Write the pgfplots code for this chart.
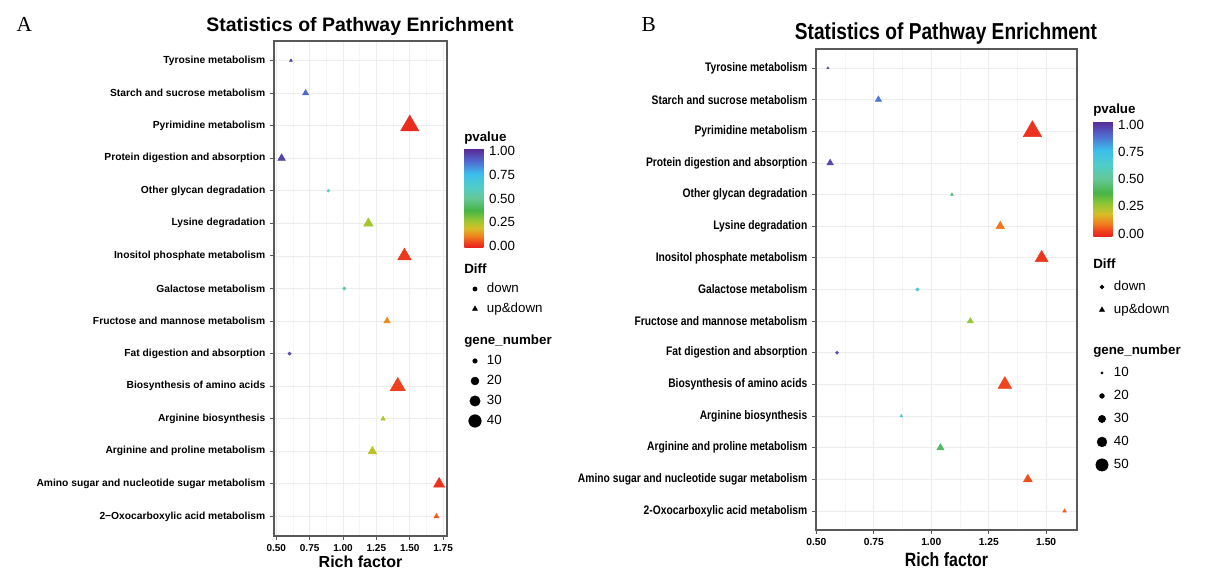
\documentclass[border=0pt]{standalone}
\usepackage{fontspec}
\setmainfont{Liberation Sans}
\newfontfamily\serifpanel{Liberation Serif}
\newfontfamily\condsans[FakeStretch=0.83]{Liberation Sans}
\usepackage{pgfplots}
\pgfplotsset{compat=1.18}
\usepackage{pgfplotstable}
\usetikzlibrary{calc}

\pgfkeys{/pgf/number format/assume math mode=true}

% p-value colour scale (red = 0, purple = 1)
\pgfplotsset{
  colormap={pv}{rgb255(0pt)=(230,30,30) rgb255(6pt)=(240,70,30) rgb255(12pt)=(240,130,30)
    rgb255(20pt)=(215,190,40) rgb255(28pt)=(150,200,50) rgb255(38pt)=(70,180,70)
    rgb255(50pt)=(100,200,150) rgb255(62pt)=(80,205,200) rgb255(75pt)=(60,190,235)
    rgb255(87pt)=(80,110,210) rgb255(100pt)=(90,40,150)},
  enrich/.style={
    scale only axis,
    ymin=0.4, ymax=15.6,
    ytick={1,...,15},
    yticklabels={2−Oxocarboxylic acid metabolism, Amino sugar and nucleotide sugar metabolism,
      Arginine and proline metabolism, Arginine biosynthesis, Biosynthesis of amino acids,
      Fat digestion and absorption, Fructose and mannose metabolism, Galactose metabolism,
      Inositol phosphate metabolism, Lysine degradation, Other glycan degradation,
      Protein digestion and absorption, Pyrimidine metabolism, Starch and sucrose metabolism,
      Tyrosine metabolism},
    tick pos=left,
    tick align=outside,
    major tick length=3pt,
    minor tick length=0pt,
    minor x tick num=1,
    xmajorgrids, xminorgrids, ymajorgrids,
    major grid style={gray!14, line width=0.6pt},
    minor grid style={gray!8, line width=0.35pt},
    axis line style={black!65, line width=0.8pt},
    tick style={black!65, line width=0.7pt},
    scaled x ticks=false,
    xticklabel style={/pgf/number format/fixed, /pgf/number format/fixed zerofill,
      /pgf/number format/precision=2},
    xlabel={Rich factor},
    colormap name=pv,
    legend style={draw=none, fill=none, inner sep=0pt, outer sep=0pt, row sep=0pt,
      column sep=3pt, nodes={inner sep=0pt, font=\fontsize{10}{12}\selectfont},
      cells={anchor=west}, anchor=north west},
  },
  legA/.style={legend image code/.code={
      \path[draw=none, fill=none] (0pt,-7.5pt) rectangle (12pt,7.5pt);
      \draw[##1] plot[only marks] coordinates {(6pt,0pt)};}},
  legB/.style={legend image code/.code={
      \path[draw=none, fill=none] (0pt,-8.625pt) rectangle (12pt,8.625pt);
      \draw[##1] plot[only marks] coordinates {(6pt,0pt)};}},
  pts/.style={scatter, only marks, mark=#1,
    scatter/use mapped color={draw=mapped color, fill=mapped color},
    point meta=\thisrow{p}},
  pbar/.style={scale only axis, width=15pt,
    axis line style={draw=none}, major tick length=0pt,
    ytick={0,0.25,0.5,0.75,1},
    yticklabel style={font=\fontsize{10}{12}\selectfont,
      /pgf/number format/fixed, /pgf/number format/fixed zerofill,
      /pgf/number format/precision=2}},
}

% panel A: pos rf p n
\pgfplotstableread{
pos rf p n
15 0.61 0.97 5
14 0.72 0.90 10
13 1.50 0.00 45
12 0.54 0.97 13
10 1.19 0.25 17
9 1.46 0.02 28
7 1.33 0.12 11
5 1.41 0.03 33
4 1.30 0.25 7
3 1.22 0.22 15
2 1.72 0.01 21
1 1.70 0.06 8
}\AUp
\pgfplotstableread{
pos rf p n
11 0.89 0.60 6
8 1.01 0.55 7
6 0.60 0.95 7
}\ADown

% panel B
\pgfplotstableread{
pos rf p n
15 0.55 0.98 7
14 0.77 0.88 20
13 1.44 0.00 55
12 0.56 0.97 20
11 1.09 0.45 10
10 1.30 0.08 26
9 1.48 0.01 39
7 1.17 0.27 19
5 1.32 0.03 41
4 0.87 0.70 9
3 1.04 0.42 22
2 1.42 0.04 27
1 1.58 0.06 12
}\BUp
\pgfplotstableread{
pos rf p n
8 0.94 0.65 14
6 0.59 0.95 13
}\BDown

\newcommand\ls{\rule[-2pt]{0pt}{9.5pt}}

\begin{document}
\begin{tikzpicture}
\useasboundingbox (0,0) rectangle (910.5pt,427.5pt);

% ---------------- A ----------------
\begin{axis}[enrich, legA,
  at={(205.5pt,25.5pt)}, anchor=south west,
  width=129.75pt, height=371.25pt,
  xmin=0.483, xmax=1.779,
  xtick={0.5,0.75,1,1.25,1.5,1.75},
  xticklabel style={font=\bfseries\fontsize{7.5}{8}\selectfont},
  yticklabel style={font=\bfseries\fontsize{7.7}{9}\selectfont},
  xlabel style={font=\bfseries\fontsize{12}{14}\selectfont,
    at={(axis description cs:0.5,-0.0646)}, anchor=base},
  point meta min=-0.022, point meta max=1.022,
  colorbar,
  colorbar style={pbar, height=74.25pt,
    at={($(parent axis.south west)+(134.25pt,216pt)$)}, anchor=south west},
  legend style={at={(1.1156,0.5192)}},
]
\addplot[pts=triangle*, forget plot,
  visualization depends on={1.555*max(0.95*sqrt(\thisrow{n})-1.3,0.3) \as \ms},
  scatter/@pre marker code/.append style={/tikz/mark size=\ms}]
  table[x=rf, y=pos] {\AUp};
\addplot[pts=*, forget plot,
  visualization depends on={max(0.95*sqrt(\thisrow{n})-1.3,0.3) \as \ms},
  scatter/@pre marker code/.append style={/tikz/mark size=\ms}]
  table[x=rf, y=pos] {\ADown};

\addlegendimage{only marks, mark=*, black, mark size=1.6pt}
\addlegendentry{\ls down}
\addlegendimage{only marks, mark=triangle*, black, mark size=2.2pt}
\addlegendentry{\ls up\&down}
\addlegendimage{empty legend}
\addlegendentry{\rule{0pt}{22.5pt}}
\addlegendimage{only marks, mark=*, black, mark size=1.70pt}
\addlegendentry{\ls 10}
\addlegendimage{only marks, mark=*, black, mark size=2.95pt}
\addlegendentry{\ls 20}
\addlegendimage{only marks, mark=*, black, mark size=3.90pt}
\addlegendentry{\ls 30}
\addlegendimage{only marks, mark=*, black, mark size=4.71pt}
\addlegendentry{\ls 40}
\end{axis}

% ---------------- B ----------------
\begin{axis}[enrich, legB,
  at={(612pt,30pt)}, anchor=south west,
  width=195.75pt, height=360.75pt,
  xmin=0.4985, xmax=1.634,
  xtick={0.5,0.75,1,1.25,1.5},
  xticklabel style={font=\bfseries\fontsize{7.7}{8}\selectfont},
  yticklabels={2-Oxocarboxylic acid metabolism, Amino sugar and nucleotide sugar metabolism,
      Arginine and proline metabolism, Arginine biosynthesis, Biosynthesis of amino acids,
      Fat digestion and absorption, Fructose and mannose metabolism, Galactose metabolism,
      Inositol phosphate metabolism, Lysine degradation, Other glycan degradation,
      Protein digestion and absorption, Pyrimidine metabolism, Starch and sucrose metabolism,
      Tyrosine metabolism},
  yticklabel style={font=\condsans\bfseries\fontsize{9.3}{10}\selectfont},
  xlabel style={font=\condsans\bfseries\fontsize{14.4}{16}\selectfont,
    at={(axis description cs:0.5,-0.0769)}, anchor=base},
  point meta min=-0.032, point meta max=1.032,
  colorbar,
  colorbar style={pbar, height=87pt,
    at={($(parent axis.south west)+(199.5pt,219.75pt)$)}, anchor=south west},
  legend style={at={(1.0651,0.5292)}},
]
\addplot[pts=triangle*, forget plot,
  visualization depends on={1.555*max(0.094*\thisrow{n}-0.1,0.3) \as \ms},
  scatter/@pre marker code/.append style={/tikz/mark size=\ms}]
  table[x=rf, y=pos] {\BUp};
\addplot[pts=*, forget plot,
  visualization depends on={max(0.094*\thisrow{n}-0.1,0.3) \as \ms},
  scatter/@pre marker code/.append style={/tikz/mark size=\ms}]
  table[x=rf, y=pos] {\BDown};

\addlegendimage{only marks, mark=*, black, mark size=1.45pt}
\addlegendentry{\ls down}
\addlegendimage{only marks, mark=triangle*, black, mark size=2.2pt}
\addlegendentry{\ls up\&down}
\addlegendimage{empty legend}
\addlegendentry{\rule{0pt}{28.5pt}}
\addlegendimage{only marks, mark=*, black, mark size=0.84pt}
\addlegendentry{\ls 10}
\addlegendimage{only marks, mark=*, black, mark size=1.78pt}
\addlegendentry{\ls 20}
\addlegendimage{only marks, mark=*, black, mark size=2.72pt}
\addlegendentry{\ls 30}
\addlegendimage{only marks, mark=*, black, mark size=3.66pt}
\addlegendentry{\ls 40}
\addlegendimage{only marks, mark=*, black, mark size=4.60pt}
\addlegendentry{\ls 50}
\end{axis}

% titles and legend headings
\node[anchor=base west, font=\serifpanel\fontsize{16}{18}\selectfont] at (9pt,403.5pt) {A};
\node[anchor=base, font=\bfseries\fontsize{14.6}{17}\selectfont] at (270pt,403.5pt) {Statistics of Pathway Enrichment};
\node[anchor=base west, font=\bfseries\fontsize{10}{12}\selectfont, inner sep=0pt] at (348pt,321pt) {pvalue};
\node[anchor=base west, font=\bfseries\fontsize{10}{12}\selectfont, inner sep=0pt] at (348pt,222pt) {Diff};
\node[anchor=base west, font=\bfseries\fontsize{10}{12}\selectfont, inner sep=0pt] at (348pt,168.75pt) {gene\_number};

\node[anchor=base west, font=\serifpanel\fontsize{16}{18}\selectfont] at (477.75pt,403.5pt) {B};
\node[anchor=base, font=\condsans\bfseries\fontsize{17.3}{20}\selectfont] at (709.5pt,398pt) {Statistics of Pathway Enrichment};
\node[anchor=base west, font=\bfseries\fontsize{10}{12}\selectfont, inner sep=0pt] at (819.75pt,342pt) {pvalue};
\node[anchor=base west, font=\bfseries\fontsize{10}{12}\selectfont, inner sep=0pt] at (819.75pt,225.75pt) {Diff};
\node[anchor=base west, font=\bfseries\fontsize{10}{12}\selectfont, inner sep=0pt] at (819.75pt,161.25pt) {gene\_number};
\end{tikzpicture}
\end{document}
